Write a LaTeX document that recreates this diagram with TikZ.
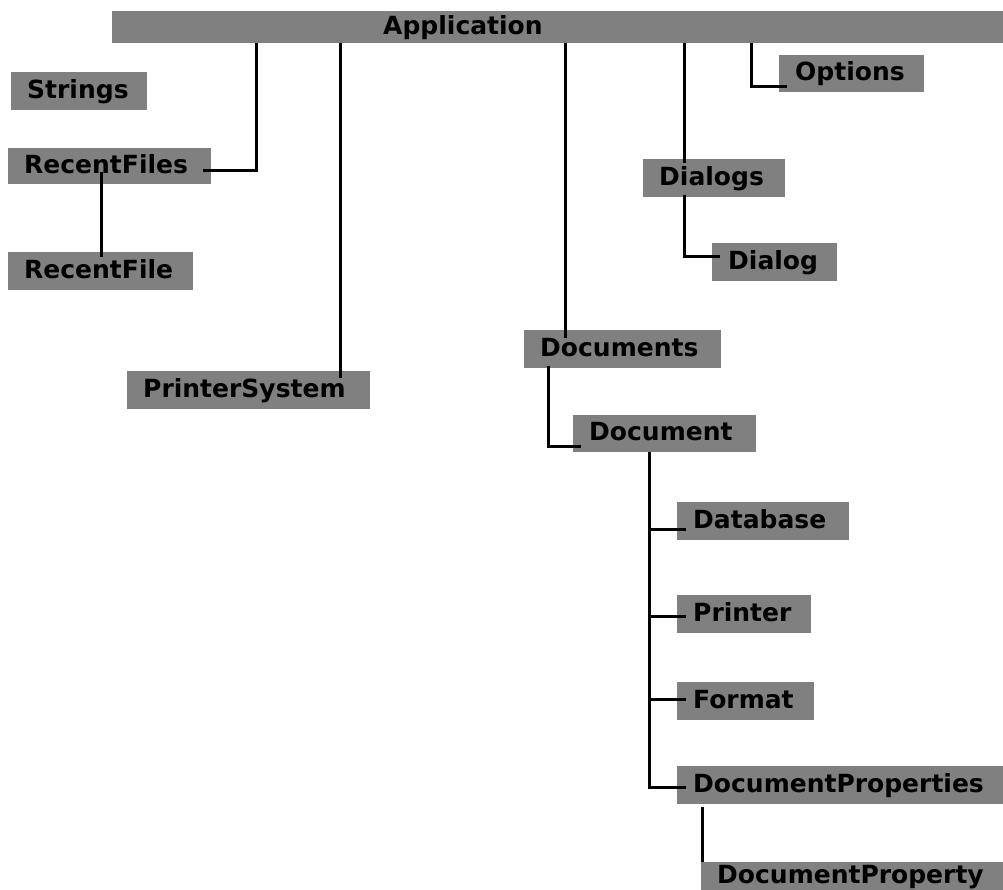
\documentclass[tikz,border=0pt]{standalone}
\usepackage{fontspec}
\setsansfont{DejaVu Sans}
\hyphenpenalty=10000
\exhyphenpenalty=10000
\tikzset{
    obj/.style={fill=black!50, anchor=north west, inner xsep=16pt, inner ysep=0pt,
        text height=19pt, text depth=5pt, align=left,
        font=\sffamily\bfseries\fontsize{25}{30}\selectfont},
    link/.style={line width=3pt}
}
\begin{document}
\begin{tikzpicture}[x=1pt, y=-1pt]
    \path[use as bounding box, clip] (0,0) rectangle (1003,890);
    \node[obj, inner xsep=271pt, text width=349pt, minimum height=32pt] (app) at (112,11) {Application};
    \node[obj, text width=104pt, minimum height=38pt] (strings) at (11,72) {Strings};
    \node[obj, text width=171pt, minimum height=36pt] (rfs) at (8,148) {RecentFiles};
    \node[obj, text width=153pt, minimum height=38pt] (rf) at (8,252) {RecentFile};
    \node[obj, text width=211pt, minimum height=38pt] (psys) at (127,371) {PrinterSystem};
    \node[obj, text width=165pt, minimum height=38pt] (docs) at (524,330) {Documents};
    \node[obj, text width=110pt, minimum height=38pt] (dlgs) at (643,159) {Dialogs};
    \node[obj, text width=113pt, minimum height=37pt] (opts) at (779,55) {Options};
    \node[obj, text width=93pt, minimum height=38pt] (dlg) at (712,243) {Dialog};
    \node[obj, text width=151pt, minimum height=37pt] (doc) at (573,415) {Document};
    \node[obj, text width=140pt, minimum height=38pt] (db) at (677,502) {Database};
    \node[obj, text width=102pt, minimum height=38pt] (prn) at (677,595) {Printer};
    \node[obj, text width=105pt, minimum height=38pt] (fmt) at (677,682) {Format};
    \node[obj, text width=294pt, minimum height=38pt] (dprops) at (677,766) {DocumentProperties};
    \node[obj, text width=270pt, minimum height=28pt] (dprop) at (701,862) {DocumentProperty};
    % connectors
    \draw[link] ([xshift=144pt]app.south west) |- ([xshift=-8pt,yshift=-4pt]rfs.east);
    \draw[link] ([xshift=93pt,yshift=12pt]rfs.south west) -- ([xshift=93pt,yshift=-5pt]rf.north west);
    \draw[link] ([xshift=228pt]app.south west) -- ([xshift=213pt,yshift=-7pt]psys.north west);
    \draw[link] ([xshift=453pt]app.south west) -- ([xshift=41pt,yshift=-8pt]docs.north west);
    \draw[link] ([xshift=572pt]app.south west) -- ([xshift=41pt,yshift=-4pt]dlgs.north west);
    \draw[link] ([xshift=639pt]app.south west) |- ([xshift=8pt,yshift=6pt]opts.south west);
    \draw[link] ([xshift=41pt,yshift=2pt]dlgs.south west) |- ([xshift=8pt,yshift=6pt]dlg.west);
    \draw[link] ([xshift=24pt,yshift=2pt]docs.south west) |- ([xshift=8pt,yshift=-12.5pt]doc.west);
    \foreach \c/\s in {db/-8,prn/-2,fmt/2,dprops/-2}{
        \draw[link] ([xshift=76pt]doc.south west) |- ([xshift=9pt,yshift=\s pt]\c.west);}
    \draw[link] ([xshift=25pt,yshift=-3pt]dprops.south west) -- ([xshift=1pt]dprop.north west);
\end{tikzpicture}
\end{document}
